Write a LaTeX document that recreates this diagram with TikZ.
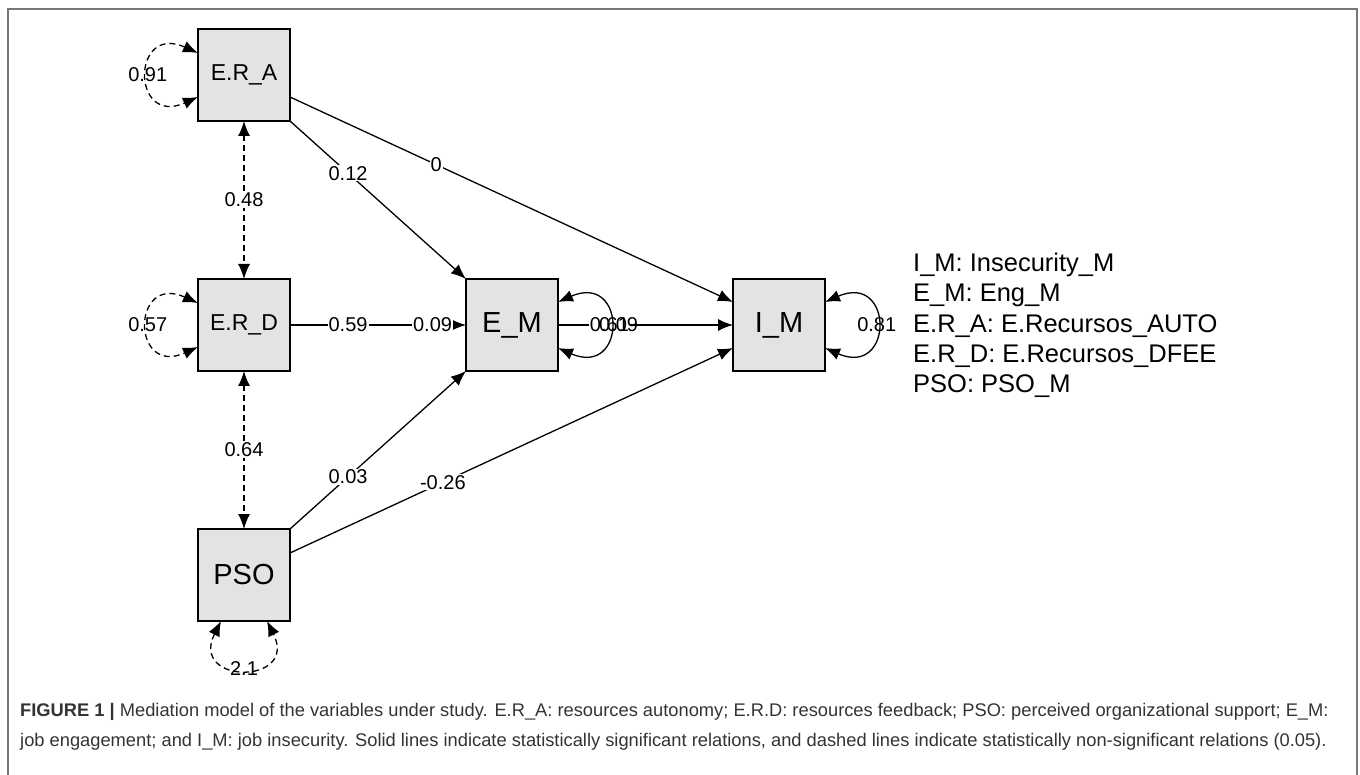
\documentclass[tikz,border=0pt]{standalone}
\usepackage{fontspec}
\setmainfont{Liberation Sans}
\usetikzlibrary{arrows.meta}
\definecolor{boxgray}{HTML}{E3E3E3}
\definecolor{framegray}{HTML}{777777}
\definecolor{captext}{HTML}{333333}
\begin{document}
\begin{tikzpicture}[x=1pt,y=-1pt,
  var/.style={draw=black,line width=2pt,fill=boxgray,minimum size=92pt,inner sep=0pt,outer sep=0pt,font=\fontsize{29}{34}\selectfont},
  smallvar/.style={var,font=\fontsize{23}{28}\selectfont},
  sempath/.style={line width=1.3pt,-{Latex[length=15pt,width=12pt]}},
  semcov/.style={line width=1.3pt,dash pattern=on 6pt off 4pt,{Latex[length=15pt,width=12pt]}-{Latex[length=15pt,width=12pt]}},
  semloop/.style={line width=1.3pt,{Latex[length=15pt,width=12pt]}-{Latex[length=15pt,width=12pt]}},
  lbl/.style={fill=white,inner sep=1pt,font=\fontsize{20}{24}\selectfont},
  lblnofill/.style={inner sep=1pt,font=\fontsize{20}{24}\selectfont},
  legend/.style={anchor=base west,inner sep=0pt,font=\fontsize{25.5}{30}\selectfont},
  captionline/.style={anchor=base west,inner sep=0pt,text=captext,font=\fontsize{18.3}{22}\selectfont},
]
\useasboundingbox (0,0) rectangle (1360,775);
% frame
\draw[framegray,line width=2.2pt] (8,775) -- (8,9) -- (1357,9) -- (1357,775);

% variables
\node[smallvar] (ERA) at (244,75) {E.R\_A};
\node[smallvar] (ERD) at (244,325) {E.R\_D};
\node[var] (PSO) at (244,575) {PSO};
\node[var] (EM) at (512,325) {E\_M};
\node[var] (IM) at (779,325) {I\_M};

% directed paths
\draw[sempath] (ERA.south east) -- node[lbl,pos=0.33]{0.12} (EM.north west);
\draw[sempath] ([yshift=-22pt]ERA.east) -- node[lbl,pos=0.33]{0} ([yshift=23pt]IM.west);
\draw[sempath] (ERD.east) -- node[lbl,pos=0.33]{0.59} node[lbl,pos=0.81]{0.09} (EM.west);
\draw[sempath] (PSO.north east) -- node[lbl,pos=0.33]{0.03} (EM.south west);
\draw[sempath] ([yshift=22pt]PSO.east) -- node[lbl,pos=0.345]{-0.26} ([yshift=-23pt]IM.west);
\draw[sempath] (EM.east) -- node[lbl,pos=0.294]{0.61} node[lblnofill,pos=0.346]{0.09} (IM.west);

% covariances
\draw[semcov] (ERA.south) -- node[lbl]{0.48} (ERD.north);
\draw[semcov] (ERD.south) -- node[lbl]{0.64} (PSO.north);

% variances
\draw[semcov] ([yshift=22pt]ERA.west) .. controls +(-67,-30) and +(-67,30) .. node[lbl,pos=0.5,fill=none]{0.91} ([yshift=-22pt]ERA.west);
\draw[semcov] ([yshift=22pt]ERD.west) .. controls +(-67,-30) and +(-67,30) .. node[lbl,pos=0.5,fill=none]{0.57} ([yshift=-22pt]ERD.west);
\draw[semcov] ([xshift=-23pt]PSO.south) .. controls +(-32,64) and +(32,64) .. node[lbl,pos=0.5,fill=none]{2.1} ([xshift=23pt]PSO.south);
\draw[semloop] ([yshift=23pt]EM.east) .. controls +(69,-30) and +(69,30) .. ([yshift=-23pt]EM.east);
\draw[semloop] ([yshift=23pt]IM.east) .. controls +(69,-30) and +(69,30) .. node[lbl,pos=0.5,fill=none]{0.81} ([yshift=-23pt]IM.east);

% legend
\node[legend] (leg1) at (913,272) {I\_M: Insecurity\_M};
\node[legend] (leg2) at (913,302) {E\_M: Eng\_M};
\node[legend] (leg3) at (913,333) {E.R\_A: E.Recursos\_AUTO};
\node[legend] (leg4) at (913,363) {E.R\_D: E.Recursos\_DFEE};
\node[legend] (leg5) at (913,393) {PSO: PSO\_M};

% caption
\node[captionline] (cap1) at (20,716) {\textbf{FIGURE 1 |} Mediation model of the variables under study. E.R\_A: resources autonomy; E.R.D: resources feedback; PSO: perceived organizational support; E\_M:};
\node[captionline] (cap2) at (20,746) {job engagement; and I\_M: job insecurity. Solid lines indicate statistically significant relations, and dashed lines indicate statistically non-significant relations (0.05).};
\end{tikzpicture}
\end{document}
